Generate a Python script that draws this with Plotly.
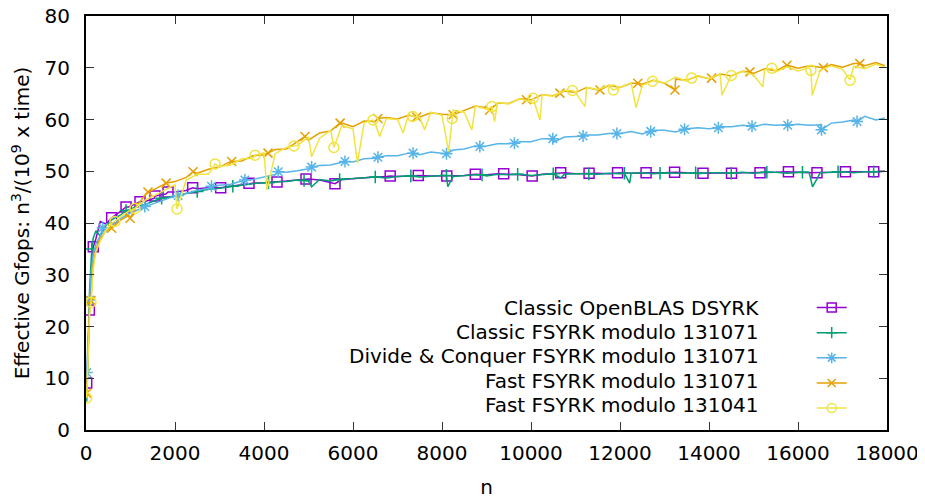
import plotly.graph_objects as go

# ---------------- data ----------------
n = [16, 48, 80, 112, 160, 224, 320, 448, 576, 768, 960, 1152, 1344, 1536, 1792, 2000,
     2250, 2500, 2750, 3000, 3250, 3500, 3750, 4000,
     4250, 4500, 4750, 5000, 5250, 5500, 5750, 6000,
     6250, 6500, 6750, 7000, 7250, 7500, 7750, 8000,
     8250, 8500, 8750, 9000, 9250, 9500, 9750, 10000,
     10250, 10500, 10750, 11000, 11250, 11500, 11750, 12000,
     12250, 12500, 12750, 13000, 13250, 13500, 13750, 14000,
     14250, 14500, 14750, 15000, 15250, 15500, 15750, 16000,
     16250, 16500, 16750, 17000, 17250, 17500, 17750, 17950]

openblas = [9.1, 18.0, 23.2, 30.0, 35.4, 37.0, 40.3, 39.8, 41.0, 42.2, 43.1, 43.8, 44.2, 44.8, 45.6, 46.0,
            46.3, 46.6, 46.8, 46.8, 47.1, 47.4, 47.7, 47.8,
            47.9, 48.1, 48.3, 48.5, 48.3, 47.7, 48.4, 48.6,
            48.7, 48.9, 49.0, 49.0, 49.1, 49.2, 49.1, 49.1,
            49.1, 49.2, 49.4, 49.3, 49.5, 49.4, 49.3, 49.1,
            49.4, 49.5, 49.7, 49.5, 49.6, 49.6, 49.5, 49.7,
            49.6, 49.7, 49.7, 49.7, 49.8, 49.7, 49.6, 49.6,
            49.7, 49.6, 49.7, 49.7, 49.8, 49.8, 49.9, 49.8,
            49.7, 49.7, 49.8, 49.9, 49.8, 49.9, 49.9, 50.0]

classic = [5.5, 14.0, 27.0, 33.0, 37.0, 38.5, 37.5, 39.5, 40.6, 41.5, 42.5, 43.3, 43.6, 44.3, 44.9, 45.3,
           45.7, 46.1, 46.5, 46.7, 47.0, 47.4, 47.6, 47.8,
           47.9, 48.0, 48.3, 48.1, 48.4, 48.1, 48.5, 48.6,
           48.7, 48.9, 48.7, 49.0, 49.1, 48.9, 49.1, 49.2,
           49.0, 49.2, 49.3, 49.1, 49.4, 49.3, 49.4, 49.2,
           49.4, 49.5, 49.4, 49.5, 49.6, 49.4, 49.6, 49.5,
           49.6, 49.7, 49.5, 49.7, 49.6, 49.7, 49.5, 49.7,
           49.7, 49.6, 49.8, 49.6, 49.8, 49.8, 49.6, 49.8,
           49.8, 49.7, 49.8, 49.9, 49.7, 49.9, 49.9, 50.0]
classic_dip_n = [5070, 8130, 10667, 12217, 16327]
classic_dip_v = [47.0, 47.0, 48.7, 47.7, 47.0]

divconq = [11.0, 19.0, 25.0, 30.0, 34.0, 36.0, 37.5, 38.6, 39.5, 40.8, 41.8, 42.5, 43.2, 43.8, 44.6, 45.2,
           45.7, 46.3, 46.7, 47.3, 47.5, 48.1, 48.4, 48.9,
           49.4, 49.8, 50.1, 50.5, 51.1, 51.2, 51.8, 51.8,
           52.4, 52.5, 53.0, 53.0, 53.5, 53.2, 53.7, 53.5,
           54.1, 54.3, 54.9, 54.9, 55.3, 55.3, 55.7, 55.7,
           56.3, 55.6, 56.6, 56.7, 57.0, 57.0, 57.3, 57.3,
           57.7, 57.2, 57.9, 57.9, 57.6, 58.2, 58.4, 58.2,
           58.6, 58.6, 58.9, 58.6, 59.1, 58.9, 59.0, 59.1,
           58.9, 59.0, 59.3, 59.5, 59.9, 60.6, 59.9, 60.3]

fast071 = [7.1, 16.0, 24.0, 28.0, 32.0, 35.0, 37.0, 38.5, 39.0, 40.5, 41.5, 43.5, 45.5, 46.5, 47.7, 48.0,
           48.8, 49.6, 50.4, 50.8, 51.9, 52.0, 53.0, 53.2,
           54.2, 54.3, 55.8, 56.0, 57.4, 57.8, 59.3, 58.6,
           59.7, 59.6, 60.4, 60.1, 60.8, 60.5, 61.3, 61.0,
           61.8, 61.7, 62.6, 62.3, 63.2, 63.1, 64.0, 63.8,
           64.8, 64.6, 65.5, 65.2, 66.2, 65.7, 66.6, 66.2,
           67.0, 66.8, 67.6, 67.0, 67.8, 67.6, 68.4, 67.9,
           68.8, 68.4, 69.3, 68.9, 69.8, 69.4, 70.5, 69.9,
           70.4, 70.0, 70.6, 70.1, 70.8, 70.4, 71.0, 70.4]

fast041 = [6.2, 15.0, 22.0, 24.7, 31.0, 34.5, 36.5, 38.5, 40.0, 41.2, 42.3, 43.2, 44.5, 45.3, 46.4, 47.4,
           48.3, 49.4, 49.4, 50.9, 51.2, 52.4, 52.5, 53.6,
           53.4, 54.6, 55.0, 56.6, 56.4, 57.9, 58.8, 58.2,
           59.4, 59.2, 60.2, 60.0, 61.0, 60.4, 61.4, 60.8,
           61.8, 61.4, 62.6, 62.0, 63.3, 63.0, 64.0, 63.4,
           64.8, 64.5, 65.6, 65.2, 66.2, 65.8, 66.6, 66.2,
           67.1, 66.6, 67.6, 67.0, 68.2, 67.4, 68.5, 67.9,
           68.8, 68.2, 69.3, 68.6, 69.6, 69.2, 70.2, 69.4,
           70.0, 69.5, 70.4, 69.7, 70.3, 69.8, 70.7, 70.1]
fast041_dip_n = [4067, 5070, 6100, 6600, 7125, 7610, 8150, 8670, 9180, 10200, 11215, 12360,
                 14290, 15210, 16320]
fast041_dip_v = [46.4, 52.8, 51.6, 56.7, 57.4, 58.0, 53.8, 58.0, 59.6, 59.9, 62.5, 62.3,
                 64.7, 66.3, 64.7]

# point-marker samples
openblas_pn = [16, 75, 164, 577, 900, 1213, 1550, 1843, 2397, 3026, 3663, 4292, 4944, 5595,
               6836, 7467, 8108, 8748, 9386, 10026, 10667, 11305, 11945, 12586, 13227, 13865,
               14506, 15146, 15785, 16426, 17066, 17702]
openblas_pv = [9.1, 23.2, 35.4, 41.0, 43.1, 44.1, 45.2, 46.0, 46.8, 46.8, 47.7, 47.9, 48.5, 47.6,
               49.1, 49.2, 49.1, 49.4, 49.5, 49.1, 49.7, 49.6, 49.7, 49.7, 49.8, 49.6,
               49.6, 49.7, 49.9, 49.7, 49.9, 49.9]

classic_pn = [130, 900, 1700, 2500, 3300, 4100, 4900, 5700, 6500, 7300, 8100, 8900, 9700, 10500,
              11300, 12100, 12900, 13700, 14500, 15300, 16100, 16900, 17700]
classic_pv = [35.0, 42.4, 44.8, 46.1, 47.1, 47.8, 48.2, 48.4, 48.9, 49.1, 49.2, 49.3, 49.4, 49.5,
              49.5, 49.6, 49.6, 49.7, 49.6, 49.8, 49.8, 49.9, 49.9]

divconq_pn = [16, 80, 375, 1320, 2070, 2820, 3570, 4320, 5070, 5820, 6560, 7350, 8100, 8850,
              9627, 10490, 11170, 11930, 12690, 13450, 14210, 14967, 15768, 16527, 17327]
divconq_pv = [11.1, 25.1, 39.1, 43.2, 45.3, 47.1, 48.3, 49.9, 50.8, 51.9, 52.7, 53.5, 53.4, 54.8,
              55.4, 56.3, 56.8, 57.3, 57.7, 58.1, 58.4, 58.7, 58.9, 58.0, 59.6]

fast071_pn = [16, 112, 577, 990, 1393, 1800, 2405, 3274, 4090, 4920, 5710, 6560, 7430, 8250,
              9070, 9900, 10650, 11550, 12400, 13235, 14060, 14920, 15750, 16570, 17390]
fast071_pv = [7.1, 25.0, 39.0, 40.9, 46.0, 47.7, 49.9, 51.9, 53.5, 56.7, 59.3, 60.2, 60.5, 60.9,
              61.8, 63.8, 65.1, 65.7, 67.0, 65.7, 68.0, 69.2, 70.5, 70.0, 70.8]

fast041_pn = [16, 112, 650, 1100, 2045, 2900, 3800, 4675, 5570, 6450, 7340, 8230, 9120, 10047,
              10930, 11850, 12730, 13610, 14500, 15410, 16290, 17170]
fast041_pv = [6.2, 24.7, 40.3, 42.8, 42.7, 51.4, 53.1, 54.9, 54.6, 59.9, 60.6, 60.2, 62.5, 64.1,
              65.6, 65.7, 67.4, 68.0, 68.5, 69.9, 69.5, 67.6]

names = ["Classic OpenBLAS DSYRK",
         "Classic FSYRK modulo 131071",
         "Divide & Conquer FSYRK modulo 131071",
         "Fast FSYRK modulo 131071",
         "Fast FSYRK modulo 131041"]

x_ticks = [0, 2000, 4000, 6000, 8000, 10000, 12000, 14000, 16000, 18000]
y_ticks = [0, 10, 20, 30, 40, 50, 60, 70, 80]


def merge(*pairs):
    """Combine several (n-list, value-list) samples of one curve, ordered by n."""
    pts = {}
    for xs, ys in pairs:
        pts.update(zip(xs, ys))
    keys = sorted(pts)
    return keys, [pts[k] for k in keys]


# ---------------- styling ----------------
colors = ["#9400d3", "#009e73", "#56b4e9", "#e69f00", "#f0e442"]
symbols = ["square-open", "cross-thin-open", "asterisk-open", "x-thin-open", "circle-open"]
sizes = [10, 9, 10, 9, 10]

curves = [
    merge((n, openblas), (openblas_pn, openblas_pv)),
    merge((n, classic), (classic_pn, classic_pv), (classic_dip_n, classic_dip_v)),
    merge((n, divconq), (divconq_pn, divconq_pv)),
    merge((n, fast071), (fast071_pn, fast071_pv)),
    merge((n, fast041), (fast041_pn, fast041_pv), (fast041_dip_n, fast041_dip_v)),
]
pts_n = [openblas_pn, classic_pn, divconq_pn, fast071_pn, fast041_pn]
pts_v = [openblas_pv, classic_pv, divconq_pv, fast071_pv, fast041_pv]

FONT = "DejaVu Sans"
FS = 20
fig = go.Figure()

for i in range(5):
    cx, cy = curves[i]
    fig.add_trace(go.Scatter(x=cx, y=cy, mode="lines",
                             line=dict(color=colors[i], width=1.5),
                             showlegend=False, hoverinfo="skip"))
    fig.add_trace(go.Scatter(x=pts_n[i], y=pts_v[i], mode="markers",
                             marker=dict(symbol=symbols[i], size=sizes[i], color=colors[i],
                                         line=dict(color=colors[i], width=1.5)),
                             showlegend=False, hoverinfo="skip"))

# legend samples (symbol only; the labels are drawn as right-aligned text like gnuplot)
for i in range(5):
    fig.add_trace(go.Scatter(x=[None], y=[None], mode="lines+markers", name=" ",
                             line=dict(color=colors[i], width=1.5),
                             marker=dict(symbol=symbols[i], size=sizes[i] - 1, color=colors[i],
                                         line=dict(color=colors[i], width=1.5)),
                             showlegend=True))

row_y = [0.2947, 0.2367, 0.1787, 0.1184, 0.0604]
for i in range(5):
    fig.add_annotation(text=names[i], xref="paper", yref="paper", x=0.843, y=row_y[i],
                       xanchor="right", yanchor="middle", showarrow=False,
                       font=dict(family=FONT, size=FS, color="black"))

axis_common = dict(showline=True, linecolor="black", linewidth=2, mirror="allticks",
                   ticks="inside", ticklen=8, tickwidth=1, tickcolor="#333333",
                   showgrid=False, zeroline=False, automargin=False,
                   ticklabeloverflow="allow",
                   tickfont=dict(family=FONT, size=FS, color="black"))

# the page body adds an 8px offset, so the figure is 917x491 inside the 925x499 window
fig.update_layout(
    width=917, height=491,
    margin=dict(l=78, r=38, t=8, b=69),
    paper_bgcolor="white", plot_bgcolor="white",
    font=dict(family=FONT, size=FS, color="black"),
    xaxis=dict(range=[0, 18000], tickvals=x_ticks, ticktext=[str(v) for v in x_ticks],
               ticklabelstandoff=4,
               title=dict(text="n", font=dict(family=FONT, size=FS), standoff=23),
               **axis_common),
    yaxis=dict(range=[0, 80], tickvals=y_ticks, ticktext=[str(v) for v in y_ticks],
               ticklabelstandoff=10,
               title=dict(text="Effective Gfops: n<sup>3</sup>/(10<sup>9</sup> x time)",
                          font=dict(family=FONT, size=FS), standoff=14),
               **axis_common),
    legend=dict(x=0.906, y=0.338, xanchor="left", yanchor="top",
                bgcolor="rgba(0,0,0,0)", font=dict(family=FONT, size=17),
                itemwidth=30, tracegroupgap=0),
    showlegend=True,
)

fig.write_html("out.html")
